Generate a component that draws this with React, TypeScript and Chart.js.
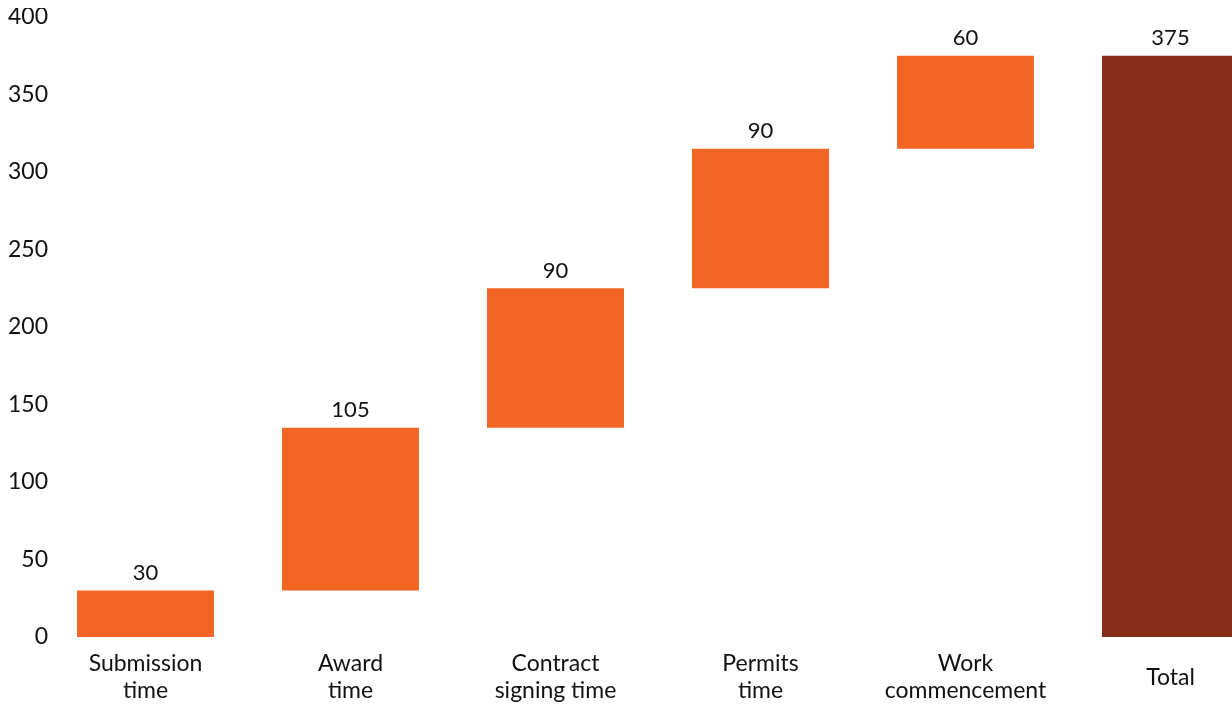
import React, { useEffect, useRef } from "react";
import { Chart, registerables } from "chart.js";

Chart.register(...registerables);

const categories: (string | string[])[] = [
  ["Submission", "time"],
  ["Award", "time"],
  ["Contract", "signing time"],
  ["Permits", "time"],
  ["Work", "commencement"],
  "Total",
];
const increments = [30, 105, 90, 90, 60];
const totalValue = 375;
const yTicks = [0, 50, 100, 150, 200, 250, 300, 350, 400];

const stepColor = "#F26524";
const totalColor = "#832D1A";
const FONT = "Lato, 'Noto Sans', sans-serif";
const TICK_SIZE = 23;

export default function App() {
  const ref = useRef<HTMLCanvasElement | null>(null);

  useEffect(() => {
    if (!ref.current) return;
    const ranges: [number, number][] = [];
    let acc = 0;
    for (const v of increments) {
      ranges.push([acc, acc + v]);
      acc += v;
    }
    ranges.push([0, totalValue]);
    const labelsVals = [...increments, totalValue];
    const colors = [...increments.map(() => stepColor), totalColor];

    // measure widest y tick label so mirrored labels can be right-aligned
    const mctx = document.createElement("canvas").getContext("2d")!;
    mctx.font = `normal normal ${TICK_SIZE}px ${FONT}`;
    const widest = Math.max(...yTicks.map((v) => mctx.measureText(String(v)).width));
    const yAxisWidth = 35;
    const labelRight = 40;

    const valueLabels = {
      id: "valueLabels",
      afterDatasetsDraw(chart: any) {
        const ctx = chart.ctx;
        const meta = chart.getDatasetMeta(0);
        ctx.save();
        ctx.font = `22px ${FONT}`;
        ctx.fillStyle = "#111";
        ctx.textAlign = "center";
        ctx.textBaseline = "middle";
        meta.data.forEach((bar: any, i: number) => {
          const top = Math.min(bar.y, bar.base);
          ctx.fillText(String(labelsVals[i]), bar.x, top - 17.5);
        });
        ctx.restore();
      },
    };

    const chart = new Chart(ref.current, {
      type: "bar",
      data: {
        labels: categories,
        datasets: [
          {
            data: ranges as any,
            backgroundColor: colors,
            borderWidth: 0,
            categoryPercentage: 1,
            barPercentage: 0.668,
          },
        ],
      },
      options: {
        animation: false,
        responsive: true,
        maintainAspectRatio: false,
        layout: { padding: { top: 9, left: 0, right: 0, bottom: 0 } },
        plugins: {
          legend: { display: false },
          tooltip: { enabled: false },
        },
        scales: {
          x: {
            afterFit(scale: any) {
              scale.height = 67;
            },
            grid: { display: false, drawTicks: false },
            border: { display: false },
            ticks: {
              color: "#111",
              font: { family: FONT, size: TICK_SIZE, lineHeight: "27px" },
              padding: 27,
              crossAlign: "center",
              maxRotation: 0,
              autoSkip: false,
            },
          },
          y: {
            min: 0,
            max: 400,
            afterFit(scale: any) {
              scale.width = yAxisWidth;
            },
            afterBuildTicks(scale: any) {
              scale.ticks = yTicks.map((v) => ({ value: v }));
            },
            grid: { display: false, drawTicks: false },
            border: { display: false },
            ticks: {
              color: "#111",
              mirror: true,
              crossAlign: "far",
              font: { family: FONT, size: TICK_SIZE, lineHeight: 0.7 },
              padding: labelRight - yAxisWidth - widest,
            },
          },
        },
      },
      plugins: [valueLabels],
    });
    return () => chart.destroy();
  }, []);

  return (
    <div
      style={{
        position: "absolute",
        left: 8,
        top: 8,
        width: 1224,
        height: 696,
        overflow: "hidden",
      }}
    >
      <div style={{ position: "relative", width: 1265, height: 696 }}>
        <canvas ref={ref} />
      </div>
    </div>
  );
}
